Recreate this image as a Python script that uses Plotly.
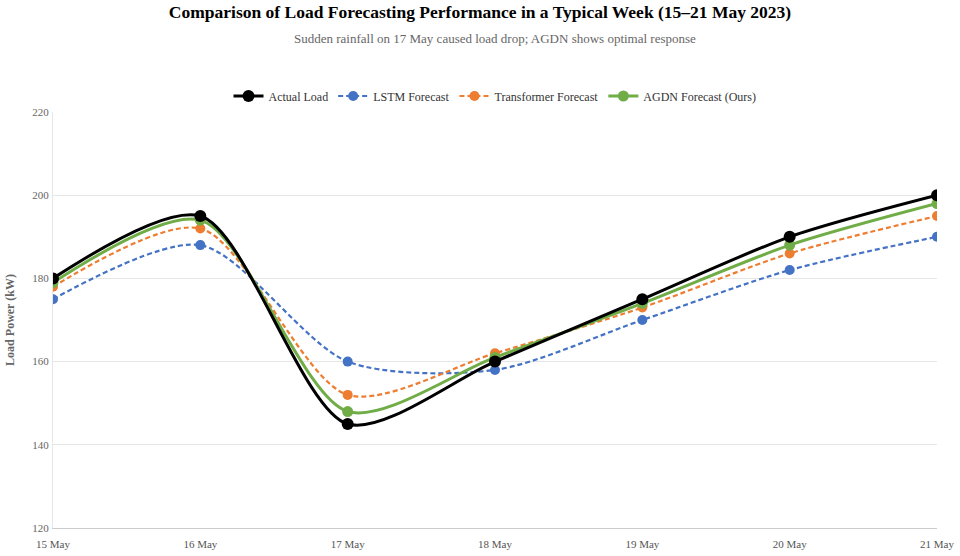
import plotly.graph_objects as go

days = ['15 May', '16 May', '17 May', '18 May', '19 May', '20 May', '21 May']
actual_load = [180, 195, 145, 160, 175, 190, 200]
lstm_forecast = [175, 188, 160, 158, 170, 182, 190]
transformer_forecast = [178, 192, 152, 162, 173, 186, 195]
agdn_forecast = [179, 194, 148, 161, 174, 188, 198]

y_ticks = [120, 140, 160, 180, 200, 220]

font_family = 'Liberation Serif, Times New Roman, serif'

fig = go.Figure()

# forecasts drawn first so the actual load sits on top; legendrank keeps legend order
fig.add_trace(go.Scatter(x=days, y=lstm_forecast, name='LSTM Forecast', mode='lines+markers',
                         legendrank=2,
                         line=dict(color='#4472c4', width=2.2, dash='5px,3px', shape='spline', smoothing=0.8),
                         marker=dict(size=10, color='#4472c4')))
fig.add_trace(go.Scatter(x=days, y=transformer_forecast, name='Transformer Forecast', mode='lines+markers',
                         legendrank=3,
                         line=dict(color='#ed7d31', width=2.2, dash='5px,3px', shape='spline', smoothing=0.8),
                         marker=dict(size=10, color='#ed7d31')))
fig.add_trace(go.Scatter(x=days, y=agdn_forecast, name='AGDN Forecast (Ours)', mode='lines+markers',
                         legendrank=4,
                         line=dict(color='#70ad47', width=3, shape='spline', smoothing=0.8),
                         marker=dict(size=11, color='#70ad47')))
fig.add_trace(go.Scatter(x=days, y=actual_load, name='Actual Load', mode='lines+markers',
                         legendrank=1,
                         line=dict(color='#000000', width=3, shape='spline', smoothing=0.8),
                         marker=dict(size=12, color='#000000')))

fig.update_layout(
    width=960, height=556,
    margin=dict(l=53, r=23, t=112, b=28, autoexpand=False),
    plot_bgcolor='white', paper_bgcolor='white',
    font=dict(family=font_family, color='#666666'),
    title=dict(text='<b>Comparison of Load Forecasting Performance in a Typical Week (15–21 May 2023)</b>',
               x=0.5, xanchor='center', yref='container', y=1 - 12 / 556, yanchor='middle',
               font=dict(size=17.5, color='#000000', family=font_family)),
    annotations=[dict(text='Sudden rainfall on 17 May caused load drop; AGDN shows optimal response',
                      xref='paper', yref='paper', x=0.5, y=1.0, yshift=74, showarrow=False,
                      xanchor='center', yanchor='middle',
                      font=dict(size=13, color='#666666', family=font_family))],
    legend=dict(orientation='h', x=0.5, xanchor='center', y=1 + 16 / 416,
                yanchor='middle', font=dict(size=12, color='#333333', family=font_family)),
    showlegend=True,
)

fig.update_xaxes(type='category', range=[0, 6], showgrid=False, showline=True,
                 linecolor='#cccccc', ticks='', tickfont=dict(size=11, color='#555555'),
                 ticklabelstandoff=6, automargin=False)
fig.update_yaxes(range=[120, 220], tickvals=y_ticks, showgrid=True, gridcolor='#e6e6e6',
                 showline=True, linecolor='#e6e6e6', zeroline=False, ticks='',
                 tickfont=dict(size=11, color='#666666'), ticklabelstandoff=1, automargin=False,
                 title=dict(text='<b>Load Power (kW)</b>', font=dict(size=12, color='#666666')))

# drop the default 8px body margin so the 960x556 figure fills the window
fig.write_html('out.html', config={'displayModeBar': False},
               post_script="document.body.style.margin = '0';")
